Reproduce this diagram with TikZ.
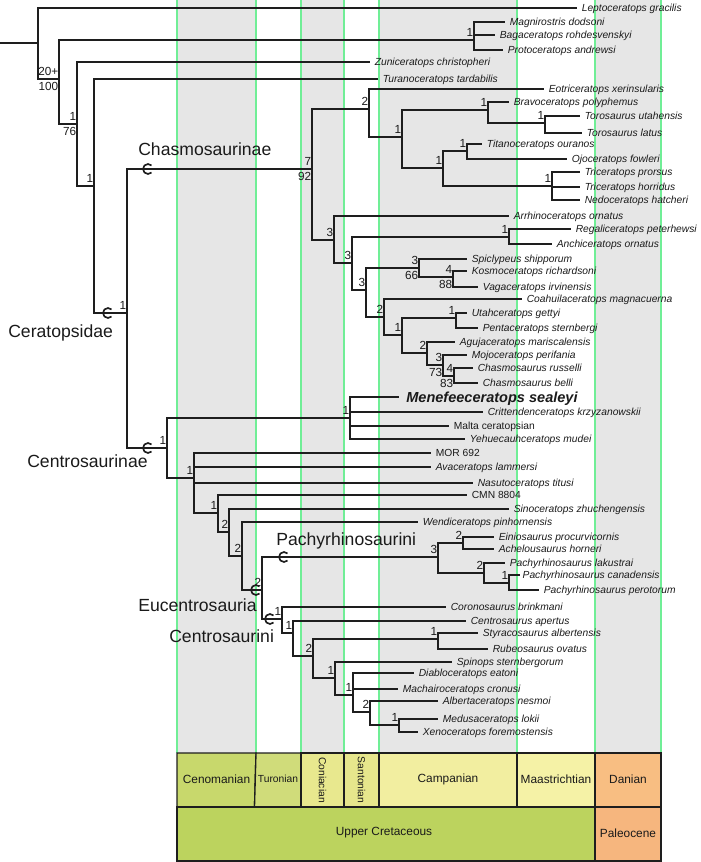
\documentclass[tikz,border=0pt]{standalone}
\usepackage{fontspec}
\setmainfont{Liberation Sans}
\definecolor{linec}{HTML}{1E1E1E}
\definecolor{textc}{HTML}{1A1A1A}
\definecolor{bandc}{HTML}{E6E6E6}
\definecolor{gridc}{HTML}{70EE96}
\definecolor{cenom}{HTML}{C8D86C}
\definecolor{turon}{HTML}{D0DC7A}
\definecolor{conia}{HTML}{E8E88E}
\definecolor{santo}{HTML}{E6E68C}
\definecolor{campa}{HTML}{F2EEA0}
\definecolor{maast}{HTML}{F5F2A6}
\definecolor{dania}{HTML}{F8BE82}
\definecolor{upcre}{HTML}{BCD35E}
\definecolor{paleo}{HTML}{F6B67E}
\begin{document}
\begin{tikzpicture}[x=0.75pt,y=-0.75pt,
  br/.style={draw=linec,line width=1.25pt},
  tax/.style={anchor=west,font=\fontsize{7.7}{8}\selectfont\itshape,text=textc,
    inner xsep=3.6pt,inner ysep=0pt,outer sep=0pt,text height=5.5pt,text depth=0pt},
  taxup/.style={tax,font=\fontsize{7.7}{8}\selectfont},
  taxbold/.style={tax,font=\fontsize{10.9}{12}\selectfont\bfseries\itshape,text height=7.8pt,inner xsep=5.5pt},
  supa/.style={anchor=south east,font=\fontsize{8.8}{9}\selectfont,text=textc,
    inner xsep=0.6pt,inner ysep=2.4pt,outer sep=0pt,text height=6.3pt,text depth=0pt},
  supb/.style={supa,anchor=north east},
  clade/.style={anchor=base west,font=\fontsize{13.2}{14}\selectfont,text=textc,inner sep=0pt},
  stage/.style={font=\fontsize{8.9}{10}\selectfont,text=textc,inner sep=0pt},
  stagesm/.style={font=\fontsize{7.7}{9}\selectfont,text=textc,inner sep=0pt},
  box/.style={draw=linec,line width=1pt}]
\useasboundingbox (0,0) rectangle (700,862);
% background bands
\foreach \a/\b in {177/256,301/344,379/517,595/661}
  \fill[bandc] (\a,0) rectangle (\b,753);
\foreach \g in {177,256,301,344,379,517,595,661}
  \draw[gridc,line width=1.1pt] (\g,0) -- (\g,753);
% time scale
\path[box,fill=cenom] (177,753) -- (256,753) -- (254.5,807) -- (177,807) -- cycle;
\path[box,fill=turon] (256,753) -- (301,753) -- (301,807) -- (254.5,807) -- cycle;
\path[box,fill=conia] (301,753) rectangle (344,807);
\path[box,fill=santo] (344,753) rectangle (379,807);
\path[box,fill=campa] (379,753) rectangle (517,807);
\path[box,fill=maast] (517,753) rectangle (595,807);
\path[box,fill=dania] (595,753) rectangle (661,807);
\path[box,fill=upcre] (177,807) rectangle (595,861);
\path[box,fill=paleo] (595,807) rectangle (661,861);
\node[stage] (tsCen) at (216.5,779) {Cenomanian};
\node[stagesm] (tsTur) at (278,779) {Turonian};
\node[stagesm,rotate=-90] (tsCon) at (322.5,780) {Coniacian};
\node[stagesm,rotate=-90] (tsSan) at (361.5,780) {Santonian};
\node[stage] (tsCam) at (448,779) {Campanian};
\node[stage] (tsMaa) at (556,779) {Maastrichtian};
\node[stage] (tsDan) at (628,779) {Danian};
\node[stage] (tsUC) at (384,833) {Upper Cretaceous};
\node[stage] (tsPal) at (628,833) {Paleocene};
% tips
\node[tax] (lep) at (577,8) {Leptoceratops gracilis};
\node[tax] (mag) at (505,22) {Magnirostris dodsoni};
\node[tax] (bag) at (495,35) {Bagaceratops rohdesvenskyi};
\node[tax] (pro) at (503,50) {Protoceratops andrewsi};
\node[tax] (zun) at (370,62) {Zuniceratops christopheri};
\node[tax] (tur) at (378,79) {Turanoceratops tardabilis};
\node[tax] (eot) at (544,89) {Eotriceratops xerinsularis};
\node[tax] (bra) at (509,102) {Bravoceratops polyphemus};
\node[tax] (tut) at (580,116) {Torosaurus utahensis};
\node[tax] (tla) at (582,133) {Torosaurus latus};
\node[tax] (tit) at (482,144) {Titanoceratops ouranos};
\node[tax] (ojo) at (567,159) {Ojoceratops fowleri};
\node[tax] (tpr) at (580,172) {Triceratops prorsus};
\node[tax] (tho) at (580,187) {Triceratops horridus};
\node[tax] (ned) at (580,200) {Nedoceratops hatcheri};
\node[tax] (arr) at (509,216) {Arrhinoceratops ornatus};
\node[tax] (reg) at (571,229) {Regaliceratops peterhewsi};
\node[tax] (anc) at (552,244) {Anchiceratops ornatus};
\node[tax] (spi) at (467,259) {Spiclypeus shipporum};
\node[tax] (kos) at (467,271) {Kosmoceratops richardsoni};
\node[tax] (vag) at (478,287) {Vagaceratops irvinensis};
\node[tax] (coa) at (522,299) {Coahuilaceratops magnacuerna};
\node[tax] (uta) at (467,313) {Utahceratops gettyi};
\node[tax] (pen) at (478,328) {Pentaceratops sternbergi};
\node[tax] (agu) at (455,342) {Agujaceratops mariscalensis};
\node[tax] (moj) at (467,355) {Mojoceratops perifania};
\node[tax] (cru) at (473,368) {Chasmosaurus russelli};
\node[tax] (cbe) at (478,383) {Chasmosaurus belli};
\node[taxbold] (men) at (399,397) {Menefeeceratops sealeyi};
\node[tax] (cri) at (483,412) {Crittendenceratops krzyzanowskii};
\node[taxup] (mal) at (449,426) {Malta ceratopsian};
\node[tax] (yeh) at (465,439) {Yehuecauhceratops mudei};
\node[taxup] (mor) at (431,453) {MOR 692};
\node[tax] (ava) at (431,467) {Avaceratops lammersi};
\node[tax] (nas) at (473,483) {Nasutoceratops titusi};
\node[taxup] (cmn) at (467,495) {CMN 8804};
\node[tax] (sin) at (509,509) {Sinoceratops zhuchengensis};
\node[tax] (wen) at (418,522) {Wendiceratops pinhornensis};
\node[tax] (ein) at (494,537) {Einiosaurus procurvicornis};
\node[tax] (ach) at (494,549) {Achelousaurus horneri};
\node[tax] (pla) at (505,563) {Pachyrhinosaurus lakustrai};
\node[tax,inner xsep=2pt] (pca) at (520,575) {Pachyrhinosaurus canadensis};
\node[tax] (ppe) at (539,590) {Pachyrhinosaurus perotorum};
\node[tax] (cor) at (446,607) {Coronosaurus brinkmani};
\node[tax] (cea) at (466,621) {Centrosaurus apertus};
\node[tax] (sty) at (478,633) {Styracosaurus albertensis};
\node[tax] (rub) at (488,649) {Rubeosaurus ovatus};
\node[tax] (spn) at (452,662) {Spinops sternbergorum};
\node[tax] (dia) at (414,673) {Diabloceratops eatoni};
\node[tax] (mac) at (398,689) {Machairoceratops cronusi};
\node[tax] (alb) at (438,701) {Albertaceratops nesmoi};
\node[tax] (med) at (438,719) {Medusaceratops lokii};
\node[tax] (xen) at (418,732) {Xenoceratops foremostensis};
% internal nodes
\coordinate (rs) at (0,43);
\coordinate (r) at (38,43);
\coordinate (n2) at (59,79);
\coordinate (pcd) at (474,40);
\coordinate (n3) at (77,124);
\coordinate (n4) at (94,186);
\coordinate (cer) at (127,313);
\coordinate (chs) at (312,169);
\coordinate (na) at (369,109);
\coordinate (nc) at (402,137);
\coordinate (nd) at (488,110);
\coordinate (tor) at (545,123);
\coordinate (ne) at (443,168);
\coordinate (tin) at (467,151);
\coordinate (trn) at (552,186);
\coordinate (nb) at (334,240);
\coordinate (nf) at (352,263);
\coordinate (rgn) at (509,237);
\coordinate (ng) at (366,290);
\coordinate (nh) at (419,268);
\coordinate (ksn) at (453,277);
\coordinate (ni) at (384,317);
\coordinate (nj) at (402,335);
\coordinate (utn) at (456,318);
\coordinate (nk) at (427,353);
\coordinate (nl) at (443,365);
\coordinate (csn) at (454,376);
\coordinate (cen) at (167,448);
\coordinate (pol) at (350,418);
\coordinate (nm) at (194,478);
\coordinate (nn) at (218,513);
\coordinate (no) at (229,532);
\coordinate (np) at (242,556);
\coordinate (euc) at (262,590);
\coordinate (pac) at (438,557);
\coordinate (eon) at (463,543);
\coordinate (pyn) at (484,573);
\coordinate (nq) at (509,583);
\coordinate (cni) at (282,619);
\coordinate (nr) at (293,633);
\coordinate (ns) at (313,656);
\coordinate (stn) at (438,639);
\coordinate (nt) at (335,678);
\coordinate (nu) at (353,695);
\coordinate (nv) at (370,712);
\coordinate (nw) at (399,725);
% branches
\draw[br] (rs) -- (r);
\foreach \p/\c in {r/lep.west,r/n2,n2/pcd,n2/n3,pcd/mag.west,pcd/bag.west,pcd/pro.west,
  n3/zun.west,n3/n4,n4/tur.west,n4/cer,cer/chs,cer/cen,chs/na,chs/nb,
  na/eot.west,na/nc,nc/nd,nc/ne,nd/bra.west,nd/tor,tor/tut.west,tor/tla.west,
  ne/tin,ne/trn,tin/tit.west,tin/ojo.west,trn/tpr.west,trn/tho.west,trn/ned.west,
  nb/arr.west,nb/nf,nf/rgn,nf/ng,rgn/reg.west,rgn/anc.west,ng/nh,ng/ni,
  nh/spi.west,nh/ksn,ksn/kos.west,ksn/vag.west,ni/coa.west,ni/nj,nj/utn,nj/nk,
  utn/uta.west,utn/pen.west,nk/agu.west,nk/nl,nl/moj.west,nl/csn,csn/cru.west,csn/cbe.west,
  cen/pol,cen/nm,pol/men.west,pol/cri.west,pol/mal.west,pol/yeh.west,
  nm/mor.west,nm/ava.west,nm/nas.west,nm/nn,nn/cmn.west,nn/no,no/sin.west,no/np,
  np/wen.west,np/euc,euc/pac,euc/cni,pac/eon,pac/pyn,eon/ein.west,eon/ach.west,
  pyn/pla.west,pyn/nq,nq/pca.west,nq/ppe.west,cni/cor.west,cni/nr,nr/cea.west,nr/ns,
  ns/stn,ns/nt,stn/sty.west,stn/rub.west,nt/spn.west,nt/nu,nu/dia.west,nu/mac.west,nu/nv,
  nv/alb.west,nv/nw,nw/med.west,nw/xen.west}
  \draw[br] (\p) |- (\c);
% clade markers
\foreach \q/\cx/\cy in {mChs/148/169,mCer/108/313,mCen/148/448,mPac/284/557,mEuc/256/590,mCni/270/619}{
  \coordinate (\q) at (\cx,\cy);
  \draw[br] (\q) ++(45:3.75pt) arc[start angle=45,end angle=315,radius=3.75pt];
}
\node[clade] (lChs) at (138,156) {Chasmosaurinae};
\node[clade] (lCer) at (8,338) {Ceratopsidae};
\node[clade] (lCen) at (27,467) {Centrosaurinae};
\node[clade] (lPac) at (276,545) {Pachyrhinosaurini};
\node[clade] (lEuc) at (138,611) {Eucentrosauria};
\node[clade] (lCni) at (169,642) {Centrosaurini};
% support values (above)
\foreach \n/\v in {n2/20+,n3/1,n4/1,cer/1,pcd/1,chs/7,na/2,nc/1,nd/1,tor/1,ne/1,tin/1,trn/1,
  nb/3,nf/3,rgn/1,ng/3,nh/3,ksn/4,ni/2,nj/1,utn/1,nk/2,nl/3,csn/4,
  cen/1,pol/1,nm/1,nn/1,no/2,np/2,euc/2,pac/3,eon/2,pyn/2,nq/1,
  cni/1,nr/1,ns/2,stn/1,nt/1,nu/1,nv/2,nw/1}
  \node[supa] (sa\n) at (\n) {\v};
% support values (below)
\foreach \n/\v in {n2/100,n3/76,chs/92,nh/66,ksn/88,nl/73,csn/83}
  \node[supb] (sb\n) at (\n) {\v};
\end{tikzpicture}
\end{document}
